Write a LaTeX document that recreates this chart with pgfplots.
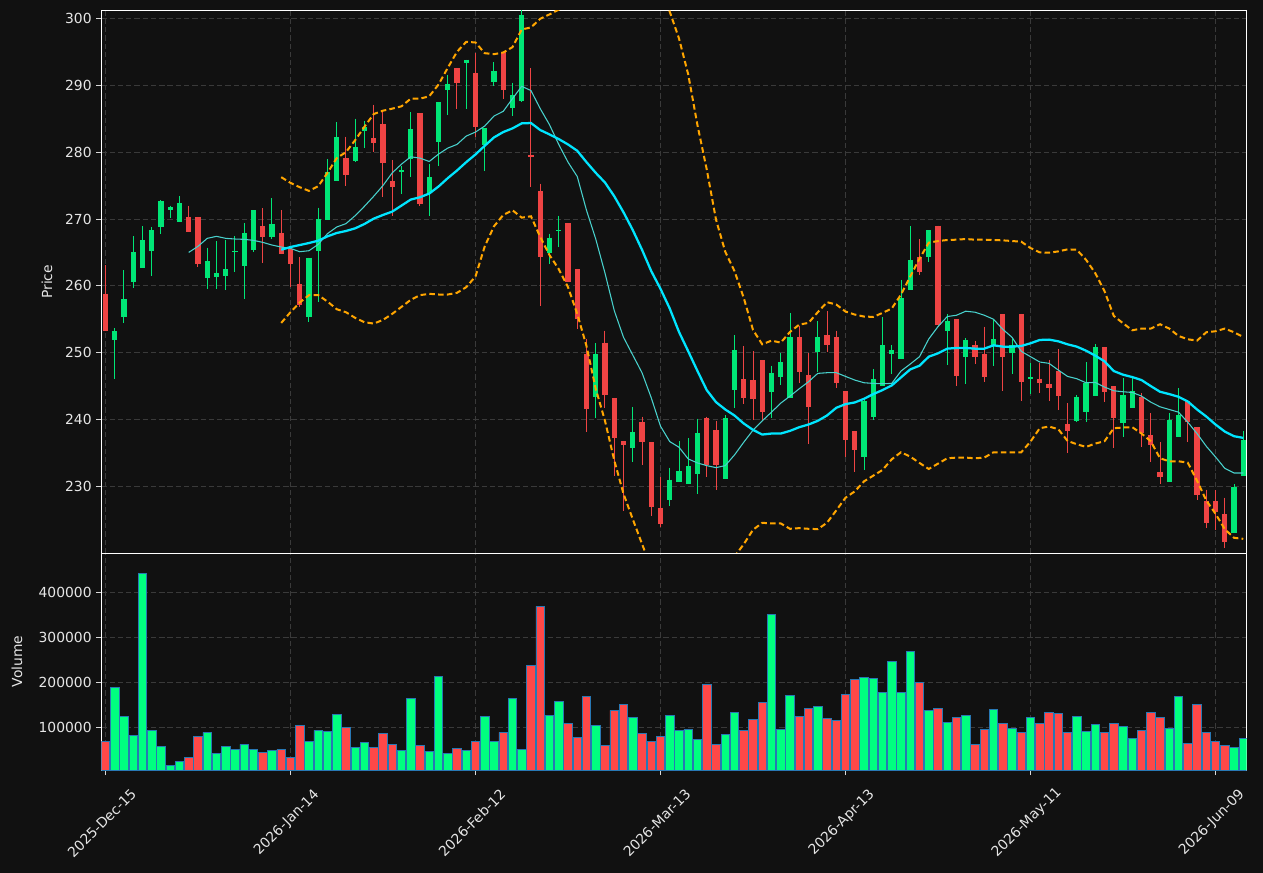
\documentclass[border=0pt]{standalone}
\usepackage{fontspec}
\setmainfont{DejaVu Sans}
\usepackage{pgfplots}
\usepackage{pgfplotstable}
\pgfplotsset{compat=1.18}
\definecolor{bg}{HTML}{111111}
\definecolor{gridc}{HTML}{3A3A3A}
\definecolor{upc}{HTML}{00E676}
\definecolor{dnc}{HTML}{EF4444}
\definecolor{vup}{HTML}{00FF80}
\definecolor{vdn}{HTML}{FF4848}
\definecolor{vedge}{HTML}{2878B4}
\definecolor{maten}{HTML}{48D1CC}
\definecolor{matwenty}{HTML}{00E5FF}
\definecolor{bb}{HTML}{FFA500}
\definecolor{txt}{HTML}{E6E6E6}

\pgfplotstableread{
i o h l c v
0 258.84 263.1 253.2 253.28 68900
1 251.95 253.66 246.0 253.23 188900
2 255.37 262.3 254.4 258.04 124400
3 260.6 267.4 259.6 265.0 82200
4 262.7 268.9 262.7 266.8 442200
5 265.2 268.8 261.4 268.3 93300
6 268.8 272.8 267.8 272.7 57800
7 271.4 272.0 270.1 271.8 14800
8 269.5 273.4 269.5 272.4 24400
9 270.3 272.0 268.1 268.1 33300
10 270.3 270.3 262.8 263.2 80000
11 261.1 265.7 259.5 263.7 88900
12 261.35 266.7 259.5 261.9 42200
13 261.5 266.8 259.3 262.5 57800
14 265.0 267.4 262.0 265.2 51100
15 263.0 269.4 258.0 267.9 62200
16 265.35 271.3 265.1 271.3 51100
17 268.9 271.6 263.4 267.3 44400
18 267.3 273.1 267.0 269.25 48900
19 267.9 271.3 264.7 264.7 51100
20 265.5 265.5 259.8 263.2 33300
21 260.3 264.3 256.9 257.2 104400
22 255.4 264.2 254.6 264.2 68900
23 265.2 271.7 257.6 270.0 93300
24 269.9 278.9 269.9 277.0 91100
25 275.7 284.5 275.7 282.2 128900
26 279.1 282.3 275.0 276.6 100000
27 278.6 285.0 278.5 280.7 55600
28 283.2 284.7 280.6 283.7 66700
29 282.1 287.1 280.0 281.4 55600
30 284.2 286.1 273.3 278.4 86700
31 275.7 278.75 270.5 274.75 62200
32 277.0 277.95 273.7 277.3 48900
33 279.0 286.0 276.35 283.45 164400
34 285.85 285.85 272.0 272.2 60000
35 273.95 278.2 270.5 276.25 46700
36 281.5 287.45 277.95 287.45 213300
37 289.3 291.6 285.6 290.2 42200
38 292.6 292.6 286.5 290.4 53300
39 293.4 293.85 286.5 293.85 48900
40 291.8 294.9 282.2 283.8 68900
41 281.05 283.55 277.1 283.55 124400
42 290.45 293.5 289.9 292.1 68900
43 295.0 295.0 288.0 289.3 88900
44 286.6 290.4 285.4 288.5 164400
45 287.7 301.5 287.5 300.5 51100
46 279.55 292.6 274.75 279.2 237800
47 274.2 275.3 257.0 264.3 368900
48 264.9 267.8 263.2 267.2 126700
49 268.2 270.5 265.8 268.35 157800
50 269.4 269.4 260.5 260.5 108900
51 262.5 262.5 253.5 255.0 77800
52 249.8 252.05 238.1 241.5 168900
53 243.3 251.4 240.3 249.75 104400
54 251.5 253.3 241.75 243.7 60000
55 243.25 243.25 231.6 237.3 137800
56 236.8 236.8 226.3 236.25 151100
57 235.8 241.8 233.7 238.1 122200
58 239.6 240.45 233.2 236.6 86700
59 236.6 236.6 225.5 226.85 68900
60 226.8 231.4 223.9 224.3 80000
61 227.9 232.8 227.0 231.0 126700
62 230.7 236.8 230.7 232.3 93300
63 230.4 237.2 230.4 233.05 95600
64 231.8 240.15 228.8 238.0 73300
65 240.3 240.45 231.4 233.2 195600
66 238.4 239.8 229.4 233.2 62200
67 231.1 240.6 231.1 240.2 84400
68 244.4 252.6 241.65 250.4 133300
69 246.0 251.0 242.3 243.25 93300
70 245.9 250.2 240.0 243.0 117800
71 248.85 248.85 240.0 241.1 155600
72 244.15 248.05 240.3 247.0 351100
73 246.35 249.9 245.1 248.6 95600
74 243.25 255.95 243.25 252.3 171100
75 252.3 254.0 245.4 247.15 124400
76 246.65 249.9 236.3 241.9 142200
77 250.1 254.7 247.1 252.3 146700
78 252.6 256.2 250.1 251.2 120000
79 252.3 253.3 244.7 245.4 115600
80 244.3 244.3 234.4 237.0 173300
81 238.3 238.3 232.1 235.5 206700
82 234.4 243.25 232.4 242.8 211100
83 240.4 247.5 239.9 246.1 208900
84 244.95 255.3 244.95 251.15 177800
85 249.75 251.15 246.8 250.4 246700
86 249.1 260.9 249.1 258.2 177800
87 259.4 268.9 259.4 263.85 268900
88 264.3 267.0 261.55 262.0 200000
89 264.3 268.3 263.6 268.3 137800
90 269.0 269.0 253.9 254.2 142200
91 253.3 255.75 248.2 254.7 111100
92 255.0 255.0 245.0 246.55 122200
93 249.4 252.2 245.3 251.9 126700
94 251.1 251.8 248.3 249.3 62200
95 249.8 253.9 245.65 246.3 95600
96 251.0 255.0 247.95 252.05 140000
97 255.8 255.8 244.3 249.3 108900
98 250.0 252.05 246.8 251.1 97800
99 255.8 255.8 242.8 245.65 88900
100 246.1 248.4 243.85 246.3 122200
101 246.1 248.4 243.9 245.5 108900
102 245.35 248.95 242.8 244.75 133300
103 247.25 250.5 241.4 243.5 131100
104 239.35 242.45 235.0 238.3 88900
105 239.8 243.7 239.6 243.35 124400
106 241.1 248.6 239.6 245.4 91100
107 243.5 251.25 243.5 250.8 106700
108 250.8 250.8 242.6 244.05 88900
109 244.95 244.95 235.7 240.3 108900
110 239.5 246.2 237.4 243.7 102200
111 241.75 246.55 241.75 244.2 75600
112 243.35 243.9 235.9 238.05 93300
113 237.65 240.95 233.7 236.2 133300
114 232.15 236.6 230.4 231.35 122200
115 230.6 240.95 230.6 240.0 97800
116 237.4 244.7 237.4 240.7 168900
117 242.8 242.8 236.7 239.7 64400
118 238.85 238.85 228.0 228.7 151100
119 227.8 229.5 223.8 224.45 88900
120 227.75 229.4 223.4 226.2 68900
121 225.9 228.3 220.8 221.7 60000
122 223.0 230.3 223.0 229.9 55600
123 231.6 238.3 231.6 236.95 75600
}\ohlc

\pgfplotstableread{
i m
9 265.0
10 265.9
11 267.1
12 267.4
13 267.1
14 267.0
15 266.95
16 266.8
17 266.5
18 266.1
19 265.8
20 265.6
21 265.1
22 265.25
23 266.2
24 267.8
25 268.8
26 269.3
27 270.5
28 271.9
29 273.4
30 275.0
31 276.9
32 278.2
33 279.3
34 279.1
35 278.6
36 279.7
37 280.6
38 281.15
39 282.4
40 283.0
41 283.9
42 285.4
43 286.1
44 288.0
45 289.85
46 289.2
47 286.5
48 284.1
49 281.15
50 278.5
51 276.35
52 271.3
53 267.0
54 261.9
55 256.3
56 252.3
57 249.65
58 247.0
59 243.25
60 239.0
61 236.7
62 235.85
63 234.1
64 233.5
65 233.1
66 232.8
67 233.1
68 234.7
69 236.6
70 238.4
71 239.8
72 241.1
73 242.45
74 243.5
75 244.6
76 245.65
77 246.9
78 247.0
79 247.0
80 246.45
81 245.9
82 245.5
83 245.4
84 245.35
85 245.4
86 247.25
87 248.3
88 249.4
89 252.05
90 253.9
91 255.4
92 255.6
93 256.2
94 256.05
95 255.6
96 255.0
97 253.5
98 252.3
99 250.2
100 249.4
101 248.6
102 248.4
103 247.4
104 246.45
105 246.1
106 245.5
107 245.55
108 244.85
109 244.3
110 244.15
111 244.05
112 243.5
113 242.6
114 241.9
115 241.5
116 241.1
117 239.6
118 237.9
119 236.0
120 234.4
121 232.7
122 232.0
123 232.0
}\maten

\pgfplotstableread{
i m bu bl
19 265.4 276.25 254.45
20 265.8 275.4 256.05
21 266.1 274.75 257.5
22 266.4 274.2 258.6
23 266.75 274.9 258.6
24 267.4 276.9 257.65
25 267.9 279.1 256.5
26 268.2 280.0 256.05
27 268.6 281.8 255.2
28 269.25 283.8 254.55
29 270.05 285.7 254.35
30 270.6 286.2 254.9
31 271.1 286.5 255.8
32 272.0 286.85 256.85
33 272.9 288.0 257.9
34 273.25 288.0 258.6
35 273.8 288.35 258.8
36 274.85 290.1 258.7
37 276.1 292.6 258.7
38 277.25 295.0 258.95
39 278.5 296.5 259.8
40 279.65 296.4 261.4
41 280.95 294.8 265.9
42 282.2 294.65 268.9
43 283.0 294.9 270.6
44 283.55 295.7 271.3
45 284.3 298.35 270.2
46 284.35 298.65 270.4
47 283.3 299.95 267.3
48 282.65 300.6 264.6
49 281.95 301.3 262.5
50 281.15 302.5 259.8
51 280.2 303.8 255.8
52 278.5 305.2 251.0
53 276.9 306.6 244.6
54 275.45 308.0 239.8
55 273.4 309.0 233.9
56 271.0 309.6 228.9
57 268.35 309.4 225.1
58 265.4 308.3 221.4
59 262.2 306.5 217.8
60 259.55 304.0 214.5
61 256.6 301.0 212.0
62 253.1 297.0 210.2
63 250.2 291.6 209.5
64 247.25 284.0 210.0
65 244.4 277.4 211.5
66 242.6 269.9 213.5
67 241.5 265.1 216.2
68 240.6 262.2 219.5
69 239.4 258.2 221.35
70 238.45 253.4 223.5
71 237.75 251.25 224.55
72 237.9 251.8 224.45
73 237.9 251.5 224.45
74 238.3 253.1 223.65
75 238.85 254.2 223.75
76 239.25 254.45 223.65
77 239.8 256.05 223.6
78 240.6 257.55 224.55
79 241.75 257.2 226.4
80 242.3 256.15 228.3
81 242.55 255.7 229.25
82 243.1 255.4 230.75
83 243.8 255.35 231.6
84 244.4 255.95 232.45
85 245.1 256.6 234.05
86 246.3 258.7 235.1
87 247.5 261.4 234.45
88 248.05 264.05 233.5
89 249.4 266.45 232.6
90 249.9 266.7 233.4
91 250.6 266.85 234.2
92 250.7 266.9 234.3
93 250.7 267.0 234.3
94 250.6 266.9 234.2
95 250.6 266.9 234.3
96 251.1 266.85 235.1
97 250.9 266.8 235.1
98 250.9 266.7 235.1
99 251.0 266.6 235.1
100 251.4 265.65 236.7
101 251.9 265.0 238.7
102 251.95 264.95 238.95
103 251.7 265.15 238.55
104 251.25 265.45 236.8
105 250.9 265.4 236.3
106 250.3 263.9 235.9
107 249.55 261.9 236.4
108 248.7 259.2 236.75
109 247.25 255.5 238.7
110 246.7 254.4 238.8
111 246.35 253.35 238.85
112 245.9 253.6 237.9
113 245.0 253.6 236.75
114 244.15 254.25 234.2
115 243.8 253.6 233.75
116 243.4 252.5 233.75
117 242.7 252.0 233.55
118 241.5 251.8 230.85
119 240.45 253.05 227.9
120 239.25 253.2 225.9
121 238.2 253.6 223.6
122 237.5 253.05 222.3
123 237.25 252.35 222.15
}\matwenty

\pgfplotsset{
  darkax/.style={
    scale only axis,
    width=858.9pt,
    xmin=-0.45, xmax=123.35,
    axis line style={white, line width=0.9pt},
    tick style={white!85!black, line width=0.6pt},
    tick align=outside,
    major tick length=3.75pt,
    ticklabel style={text=txt, font=\fontsize{10.4}{12}\selectfont},
    /pgf/number format/assume math mode=true,
    grid=major,
    grid style={gridc, dash pattern=on 4pt off 2.2pt, line width=0.6pt},
    xtick={0,20,...,120},
    xtick pos=bottom,
    ytick pos=left,
    clip=true,
  },
}

\begin{document}
\begin{tikzpicture}
\fill[bg] (0,0) rectangle (947.25pt,-654.75pt);

% ---------------- price panel ----------------
\begin{axis}[darkax,
  at={(75.98pt,-7.8pt)}, anchor=north west,
  height=407.1pt,
  ymin=220, ymax=301.2,
  ytick={230,240,...,300},
  xticklabels={},
  xtick style={draw=none},
  ylabel={Price},
  every axis y label/.style={at={(axis description cs:-0.0474,0.5)}, rotate=90, anchor=center, text=txt, font=\fontsize{10.4}{12}\selectfont},
]
% wicks
\addplot[draw=none, mark=none, forget plot,
  restrict expr to domain={\thisrow{c}-\thisrow{o}}{0:1000},
  error bars/.cd, y dir=minus, y explicit, error mark=none,
  error bar style={draw=upc, line width=0.75pt, solid}]
  table[x=i, y=h, y error minus expr={\thisrow{h}-\thisrow{l}}] {\ohlc};
\addplot[draw=none, mark=none, forget plot,
  restrict expr to domain={\thisrow{c}-\thisrow{o}}{-1000:-0.0001},
  error bars/.cd, y dir=minus, y explicit, error mark=none,
  error bar style={draw=dnc, line width=0.75pt, solid}]
  table[x=i, y=h, y error minus expr={\thisrow{h}-\thisrow{l}}] {\ohlc};
% bodies
\addplot[draw=none, mark=none, forget plot,
  restrict expr to domain={\thisrow{c}-\thisrow{o}}{0:1000},
  error bars/.cd, y dir=minus, y explicit, error mark=none,
  error bar style={draw=upc, line width=4pt, solid}]
  table[x=i, y=c, y error minus expr={\thisrow{c}-\thisrow{o}}] {\ohlc};
\addplot[draw=none, mark=none, forget plot,
  restrict expr to domain={\thisrow{c}-\thisrow{o}}{-1000:-0.0001},
  error bars/.cd, y dir=minus, y explicit, error mark=none,
  error bar style={draw=dnc, line width=4pt, solid}]
  table[x=i, y=o, y error minus expr={\thisrow{o}-\thisrow{c}}] {\ohlc};
% moving averages and bands
\addplot[maten, line width=0.8pt, no markers] table[x=i, y=m] {\maten};
\addplot[matwenty, line width=1.7pt, no markers] table[x=i, y=m] {\matwenty};
\addplot[bb, line width=1.5pt, no markers, dash pattern=on 4.2pt off 2.4pt] table[x=i, y=bu] {\matwenty};
\addplot[bb, line width=1.5pt, no markers, dash pattern=on 4.2pt off 2.4pt] table[x=i, y=bl] {\matwenty};
\end{axis}

% ---------------- volume panel ----------------
\begin{axis}[darkax,
  at={(75.98pt,-414.9pt)}, anchor=north west,
  height=162.6pt,
  ymin=5000, ymax=487000,
  ytick={100000,200000,300000,400000},
  scaled y ticks=false,
  yticklabel style={/pgf/number format/fixed, /pgf/number format/1000 sep={}},
  xticklabels={2025-Dec-15,2026-Jan-14,2026-Feb-12,2026-Mar-13,2026-Apr-13,2026-May-11,2026-Jun-09},
  xticklabel style={anchor=center, yshift=-36pt, xshift=-2.7pt, rotate=45},
  ylabel={Volume},
  every axis y label/.style={at={(axis description cs:-0.0736,0.5)}, rotate=90, anchor=center, text=txt, font=\fontsize{10.4}{12}\selectfont},
]
\addplot[ybar, bar width=0.92, bar shift=0pt, fill=vup, draw=vedge, line width=0.6pt,
  restrict expr to domain={\thisrow{c}-\thisrow{o}}{0:1000}]
  table[x=i, y=v] {\ohlc};
\addplot[ybar, bar width=0.92, bar shift=0pt, fill=vdn, draw=vedge, line width=0.6pt,
  restrict expr to domain={\thisrow{c}-\thisrow{o}}{-1000:-0.0001}]
  table[x=i, y=v] {\ohlc};
\end{axis}

\pgfresetboundingbox
\useasboundingbox (0,0) rectangle (947.25pt,-654.75pt);
\end{tikzpicture}
\end{document}
